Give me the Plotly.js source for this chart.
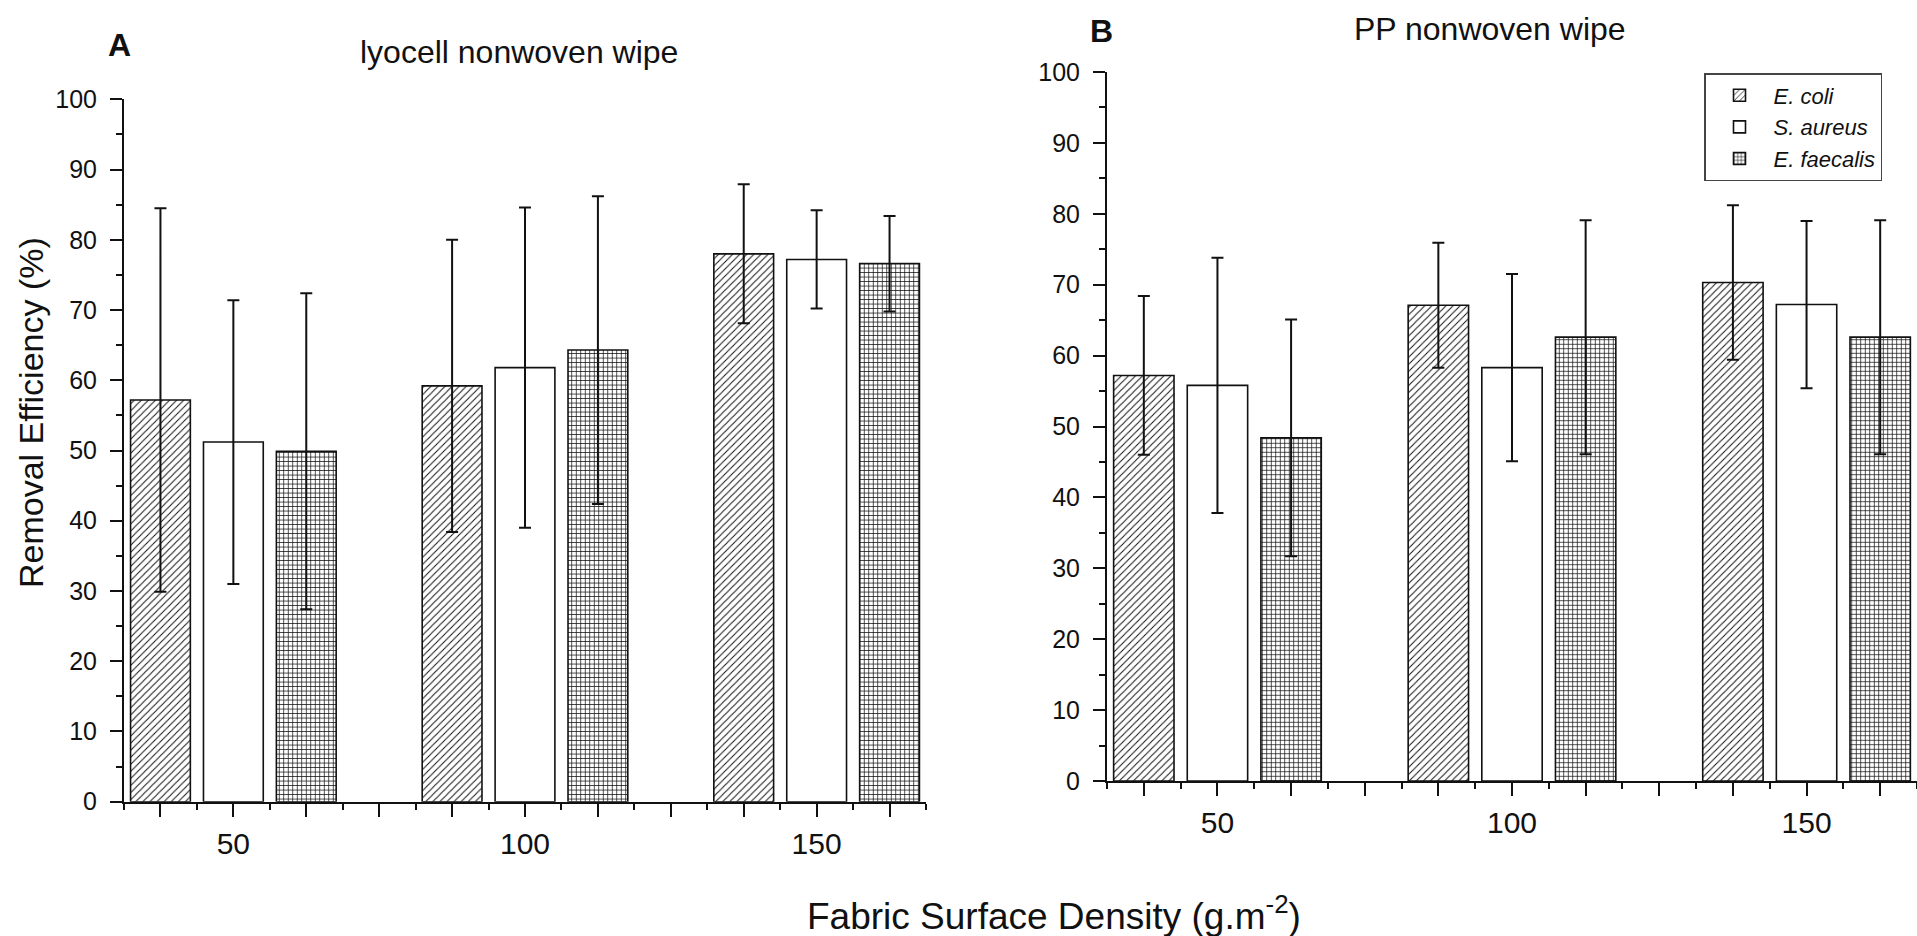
<!DOCTYPE html>
<html>
<head>
<meta charset="utf-8">
<script src="https://cdn.plot.ly/plotly-3.0.1.min.js"></script>
<style>
html,body{margin:0;padding:0;background:#fff;}
#chart{width:1917px;height:936px;}
</style>
</head>
<body>
<div id="chart"></div>
<script>
// ---- Data ----
const categories = ["50", "100", "150"];
const seriesNames = ["E. coli", "S. aureus", "E. faecalis"];

// Panel A: lyocell nonwoven wipe
const lyocellEcoli = [57.2, 59.2, 78.0];
const lyocellEcoliErr = [27.3, 20.8, 9.9];
const lyocellSaureus = [51.2, 61.8, 77.2];
const lyocellSaureusErr = [20.2, 22.8, 7.0];
const lyocellFaecalis = [49.9, 64.3, 76.6];
const lyocellFaecalisErr = [22.5, 21.9, 6.8];

// Panel B: PP nonwoven wipe
const ppEcoli = [57.2, 67.1, 70.3];
const ppEcoliErr = [11.2, 8.8, 10.9];
const ppSaureus = [55.8, 58.3, 67.2];
const ppSaureusErr = [18.0, 13.2, 11.8];
const ppFaecalis = [48.4, 62.6, 62.6];
const ppFaecalisErr = [16.7, 16.5, 16.5];

const yTickVals = [0, 10, 20, 30, 40, 50, 60, 70, 80, 90, 100];

// ---- Layout helpers ----
const FONT = "Liberation Sans, Arial, Helvetica, sans-serif";
const slotsPerGroup = 4;           // 3 bars + 1 empty slot
function posFor(seriesIdx) {
  return categories.map((c, g) => g * slotsPerGroup + seriesIdx + 1);
}
const allSlots = [];
for (let p = 1; p <= categories.length * slotsPerGroup - 1; p++) allSlots.push(p);
const slotText = allSlots.map(p => {
  const g = Math.floor((p - 1) / slotsPerGroup);
  return (p - 1) % slotsPerGroup === 1 ? categories[g] : "";
});
const xRange = [0.5, categories.length * slotsPerGroup - 0.5];

const patterns = [
  {shape: "/", size: 5, solidity: 0.2, fgcolor: "#111", bgcolor: "#fff", fillmode: "replace"},
  {shape: "", fgcolor: "#111", bgcolor: "#fff"},
  {shape: "+", size: 4.5, solidity: 0.3, fgcolor: "#111", bgcolor: "#fff", fillmode: "replace"}
];

function makeTraces(vals, errs, xa, ya, showLeg) {
  return vals.map((v, i) => ({
    type: "bar",
    name: seriesNames[i],
    legendgroup: seriesNames[i],
    showlegend: showLeg,
    x: posFor(i),
    y: v,
    width: 0.82,
    xaxis: xa, yaxis: ya,
    marker: {
      color: "#fff",
      pattern: patterns[i],
      line: {color: "#111", width: 1.6}
    },
    error_y: {type: "data", array: errs[i], visible: true, color: "#111", thickness: 2, width: 6},
    hoverinfo: "y+name"
  }));
}

const traces = [].concat(
  makeTraces([lyocellEcoli, lyocellSaureus, lyocellFaecalis],
             [lyocellEcoliErr, lyocellSaureusErr, lyocellFaecalisErr], "x", "y", false),
  makeTraces([ppEcoli, ppSaureus, ppFaecalis],
             [ppEcoliErr, ppSaureusErr, ppFaecalisErr], "x2", "y2", true)
);

function xAxis(domain, anchor) {
  return {
    domain: domain, anchor: anchor,
    range: xRange,
    tickmode: "array", tickvals: allSlots, ticktext: slotText,
    ticks: "outside", ticklen: 13, tickwidth: 2, tickcolor: "#111",
    minor: {ticks: "outside", tick0: 0.5, dtick: 1, ticklen: 6, tickwidth: 2, tickcolor: "#111"},
    showline: true, linecolor: "#111", linewidth: 2,
    showgrid: false, zeroline: false, fixedrange: true,
    tickfont: {family: FONT, size: 30, color: "#111"},
    ticklabelstandoff: 1,
    automargin: false
  };
}
function yAxis(domain, anchor) {
  return {
    domain: domain, anchor: anchor,
    range: [0, 100],
    tickmode: "array", tickvals: yTickVals,
    ticks: "outside", ticklen: 12, tickwidth: 2, tickcolor: "#111",
    minor: {ticks: "outside", dtick: 5, tick0: 0, ticklen: 6, tickwidth: 2, tickcolor: "#111"},
    showline: true, linecolor: "#111", linewidth: 2,
    showgrid: false, zeroline: false, fixedrange: true,
    tickfont: {family: FONT, size: 25, color: "#111"},
    ticklabelstandoff: 8,
    automargin: false
  };
}

const W = 1917, H = 936;
const layout = {
  width: W, height: H,
  margin: {l: 0, r: 0, t: 0, b: 0, pad: 0},
  paper_bgcolor: "#fff", plot_bgcolor: "rgba(0,0,0,0)",
  barmode: "overlay",
  showlegend: true,
  xaxis: xAxis([124 / W, 926 / W], "y"),
  yaxis: yAxis([1 - 801.7 / H, 1 - 99.3 / H], "x"),
  xaxis2: xAxis([1107 / W, 1], "y2"),
  yaxis2: yAxis([1 - 781 / H, 1 - 72 / H], "x2"),
  legend: {
    x: 1704 / W, y: 1 - 73 / H, xanchor: "left", yanchor: "top",
    bgcolor: "#fff", bordercolor: "#444", borderwidth: 1.5,
    font: {family: FONT, size: 22, color: "#111", style: "italic"},
    itemwidth: 58,
    traceorder: "normal"
  },
  annotations: [
    {text: "lyocell nonwoven wipe", x: 519 / W, y: 1 - 52 / H, xref: "paper", yref: "paper",
     showarrow: false, xanchor: "center", yanchor: "middle",
     font: {family: FONT, size: 32, color: "#111"}},
    {text: "PP nonwoven wipe", x: 1490 / W, y: 1 - 29 / H, xref: "paper", yref: "paper",
     showarrow: false, xanchor: "center", yanchor: "middle",
     font: {family: FONT, size: 32, color: "#111"}},
    {text: "<b>A</b>", x: 119 / W, y: 1 - 45 / H, xref: "paper", yref: "paper",
     showarrow: false, xanchor: "center", yanchor: "middle",
     font: {family: FONT, size: 32, color: "#111"}},
    {text: "<b>B</b>", x: 1101 / W, y: 1 - 31 / H, xref: "paper", yref: "paper",
     showarrow: false, xanchor: "center", yanchor: "middle",
     font: {family: FONT, size: 32, color: "#111"}},
    {text: "Removal Efficiency (%)", x: 31 / W, y: 1 - 413 / H, xref: "paper", yref: "paper",
     showarrow: false, xanchor: "center", yanchor: "middle", textangle: -90,
     font: {family: FONT, size: 34, color: "#111"}},
    {text: "Fabric Surface Density (g.m<sup>-2</sup>)", x: 1054 / W, y: 1 - 913 / H, xref: "paper", yref: "paper",
     showarrow: false, xanchor: "center", yanchor: "middle",
     font: {family: FONT, size: 37, color: "#111"}}
  ]
};

Plotly.newPlot("chart", traces, layout, {displayModeBar: false, staticPlot: true});
</script>
</body>
</html>
